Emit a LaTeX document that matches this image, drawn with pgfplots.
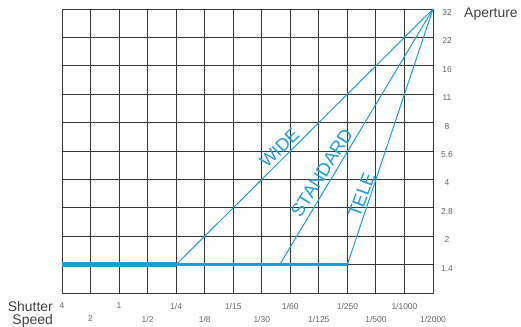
\documentclass[border=0pt]{standalone}
\usepackage{pgfplots}
\pgfplotsset{compat=1.18}
\usepackage{fontspec}
\setmainfont{Liberation Sans}
\definecolor{lensblue}{RGB}{30,158,215}
\definecolor{gridc}{RGB}{55,55,55}
\definecolor{labc}{RGB}{100,100,100}
\definecolor{textc}{RGB}{65,65,65}
\begin{document}
\begin{tikzpicture}
\begin{axis}[name=ax, scale only axis, width=371bp, height=284bp,
  xmin=0, xmax=13, ymin=0, ymax=10,
  xtick={0,2,...,12}, xticklabels={4,1,1/4,1/15,1/60,1/250,1/1000},
  extra x ticks={1,3,...,13}, extra x tick labels={2,1/2,1/8,1/30,1/125,1/500,1/2000},
  extra x tick style={grid=major, xticklabel style={yshift=-13bp}},
  ytick={1,...,10}, yticklabels={1.4,2,2.8,4,5.6,8,11,16,22,32},
  yticklabel pos=right,
  grid=major, major grid style={gridc, line width=0.9bp},
  axis line style={gridc, line width=0.9bp},
  major tick length=0,
  tick label style={font=\fontsize{8.5}{9}\selectfont, text=labc},
  xticklabel style={anchor=center, yshift=-13bp},
  yticklabel style={anchor=center, xshift=14bp, yshift=-3.5bp},
  clip=false,
]
\addplot[lensblue, line width=1bp] coordinates {(0,1) (4,1) (13,10)};
\addplot[lensblue, line width=1bp] coordinates {(0,1) (7.63,1) (13,10)};
\addplot[lensblue, line width=1bp] coordinates {(0,1) (10,1) (13,10)};
\addplot[lensblue, line width=2.6bp] coordinates {(0,1) (10,1)};
\addplot[lensblue, line width=3.6bp] coordinates {(0,1) (7.63,1)};
\addplot[lensblue, line width=4.6bp] coordinates {(0,1) (4,1)};
\node[rotate=44, text=lensblue, inner sep=0, font=\fontsize{18}{18}\selectfont] at (axis cs:7.62,5.1) {WIDE};
\node[rotate=58, text=lensblue, inner sep=0, font=\fontsize{18.5}{18}\selectfont] at (axis cs:9.1,4.23) {STANDARD};
\node[rotate=70, text=lensblue, inner sep=0, font=\fontsize{18.5}{18}\selectfont] at (axis cs:10.5,3.45) {TELE};
\end{axis}
\node[anchor=base east, inner sep=0, text=textc, font=\fontsize{14}{14}\selectfont] at ([xshift=-9bp,yshift=-18bp]ax.south west) {Shutter};
\node[anchor=base east, inner sep=0, text=textc, font=\fontsize{14}{14}\selectfont] at ([xshift=-9bp,yshift=-31bp]ax.south west) {Speed};
\node[anchor=base west, inner sep=0, text=textc, font=\fontsize{14}{14}\selectfont] at ([xshift=31bp,yshift=-9bp]ax.north east) {Aperture};
\pgfresetboundingbox
\path[use as bounding box] ([xshift=-62bp,yshift=-34bp]ax.south west) rectangle ([xshift=88bp,yshift=9bp]ax.north east);
\end{tikzpicture}
\end{document}
